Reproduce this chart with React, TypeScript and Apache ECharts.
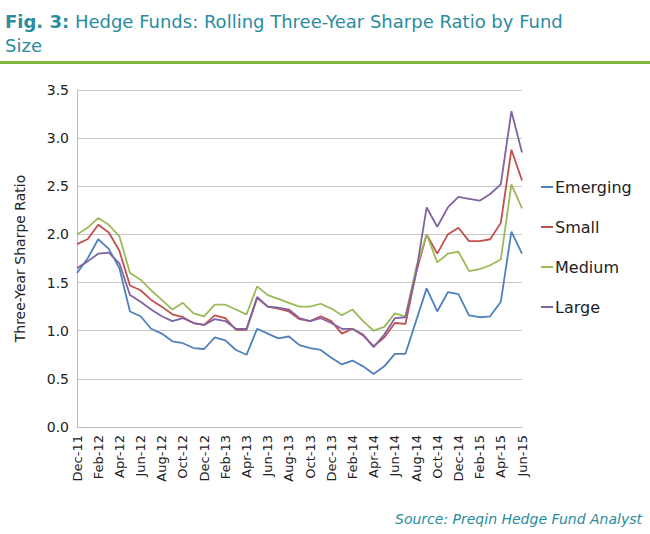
import * as echarts from 'echarts';
import React, { useEffect, useRef } from 'react';

const MONTHS = ['Jan', 'Feb', 'Mar', 'Apr', 'May', 'Jun', 'Jul', 'Aug', 'Sep', 'Oct', 'Nov', 'Dec'];
const categories: string[] = [];
for (let i = 0; i < 43; i++) {
  const m = (11 + i) % 12;
  const y = 11 + Math.floor((11 + i) / 12);
  categories.push(`${MONTHS[m]}-${y}`);
}

const emerging = [1.6, 1.75, 1.95, 1.85, 1.65, 1.2, 1.15, 1.02, 0.97, 0.89, 0.87, 0.82, 0.81, 0.93, 0.9, 0.8, 0.75, 1.02, 0.97, 0.92, 0.94, 0.85, 0.82, 0.8, 0.72, 0.65, 0.69, 0.63, 0.55, 0.63, 0.76, 0.76, 1.1, 1.44, 1.2, 1.4, 1.38, 1.16, 1.14, 1.15, 1.3, 2.03, 1.8];
const small = [1.9, 1.95, 2.1, 2.02, 1.83, 1.47, 1.42, 1.32, 1.25, 1.17, 1.14, 1.08, 1.06, 1.16, 1.13, 1.01, 1.01, 1.34, 1.25, 1.23, 1.2, 1.12, 1.1, 1.15, 1.1, 0.97, 1.02, 0.95, 0.84, 0.93, 1.08, 1.07, 1.6, 2.0, 1.8, 2.0, 2.07, 1.93, 1.93, 1.95, 2.12, 2.88, 2.56];
const medium = [2.0, 2.07, 2.17, 2.1, 1.98, 1.6, 1.53, 1.42, 1.32, 1.22, 1.29, 1.18, 1.15, 1.27, 1.27, 1.22, 1.17, 1.46, 1.37, 1.33, 1.29, 1.25, 1.25, 1.28, 1.23, 1.16, 1.22, 1.1, 1.0, 1.04, 1.18, 1.15, 1.65, 2.0, 1.71, 1.8, 1.82, 1.62, 1.64, 1.68, 1.74, 2.52, 2.27];
const large = [1.65, 1.72, 1.8, 1.81, 1.7, 1.37, 1.3, 1.22, 1.15, 1.1, 1.13, 1.08, 1.06, 1.12, 1.1, 1.02, 1.02, 1.35, 1.25, 1.24, 1.22, 1.13, 1.1, 1.13, 1.08, 1.02, 1.02, 0.96, 0.83, 0.96, 1.13, 1.14, 1.6, 2.28, 2.08, 2.28, 2.39, 2.37, 2.35, 2.42, 2.52, 3.28, 2.85];

const seriesList = [
  { name: 'Emerging', data: emerging, color: '#4F81BD' },
  { name: 'Small', data: small, color: '#C0504D' },
  { name: 'Medium', data: medium, color: '#9BBB59' },
  { name: 'Large', data: large, color: '#8064A2' },
];

const FONT = '"DejaVu Sans", sans-serif';

const App: React.FC = () => {
  const ref = useRef<HTMLDivElement>(null);

  useEffect(() => {
    document.body.style.margin = '0';
    const chart = echarts.init(ref.current, null, { renderer: 'svg' });
    chart.setOption({
      animation: false,
      textStyle: { fontFamily: FONT },
      title: {
        text: '{b|Fig. 3:} Hedge Funds: Rolling Three-Year Sharpe Ratio by Fund\nSize',
        left: 0,
        top: 4,
        textStyle: {
          color: '#2A8C9E',
          fontSize: 18,
          fontWeight: 'normal',
          lineHeight: 24,
          rich: { b: { fontSize: 18, fontWeight: 'bold', color: '#2A8C9E' } },
        },
      },
      graphic: [
        { type: 'rect', shape: { x: 0, y: 61, width: 650, height: 3 }, style: { fill: '#7DB83A' } },
        {
          type: 'text',
          right: 8,
          top: 512,
          style: { text: 'Source: Preqin Hedge Fund Analyst', fill: '#2A8C9E', font: `italic 14px ${FONT}` },
        },
      ],
      legend: {
        orient: 'vertical',
        left: 536,
        top: 174,
        itemGap: 24,
        itemWidth: 12,
        itemHeight: 2,
        icon: 'rect',
        textStyle: { fontSize: 16, color: '#222', fontFamily: FONT, padding: [0, 0, 0, -3] },
        data: seriesList.map((s) => s.name),
      },
      grid: { left: 77, right: 128, top: 90, bottom: 107 },
      xAxis: {
        type: 'category',
        boundaryGap: false,
        data: categories,
        axisLine: { lineStyle: { color: '#BBB' } },
        axisTick: { show: false },
        axisLabel: { rotate: 90, interval: 1, color: '#222', fontSize: 13, margin: 8 },
      },
      yAxis: {
        type: 'value',
        min: 0,
        max: 3.5,
        interval: 0.5,
        name: 'Three-Year Sharpe Ratio',
        nameLocation: 'middle',
        nameGap: 50,
        nameTextStyle: { fontSize: 14, color: '#222' },
        axisLine: { show: true, lineStyle: { color: '#BBB' } },
        axisLabel: { formatter: (v: number) => v.toFixed(1), color: '#222', fontSize: 14 },
        splitLine: { lineStyle: { color: '#C8C8C8' } },
      },
      series: seriesList.map((s) => ({
        name: s.name,
        type: 'line',
        data: s.data,
        symbol: 'none',
        color: s.color,
        lineStyle: { width: 1.8, color: s.color },
      })),
    });
    return () => chart.dispose();
  }, []);

  return <div ref={ref} style={{ width: 650, height: 534 }}></div>;
};

export default App;
